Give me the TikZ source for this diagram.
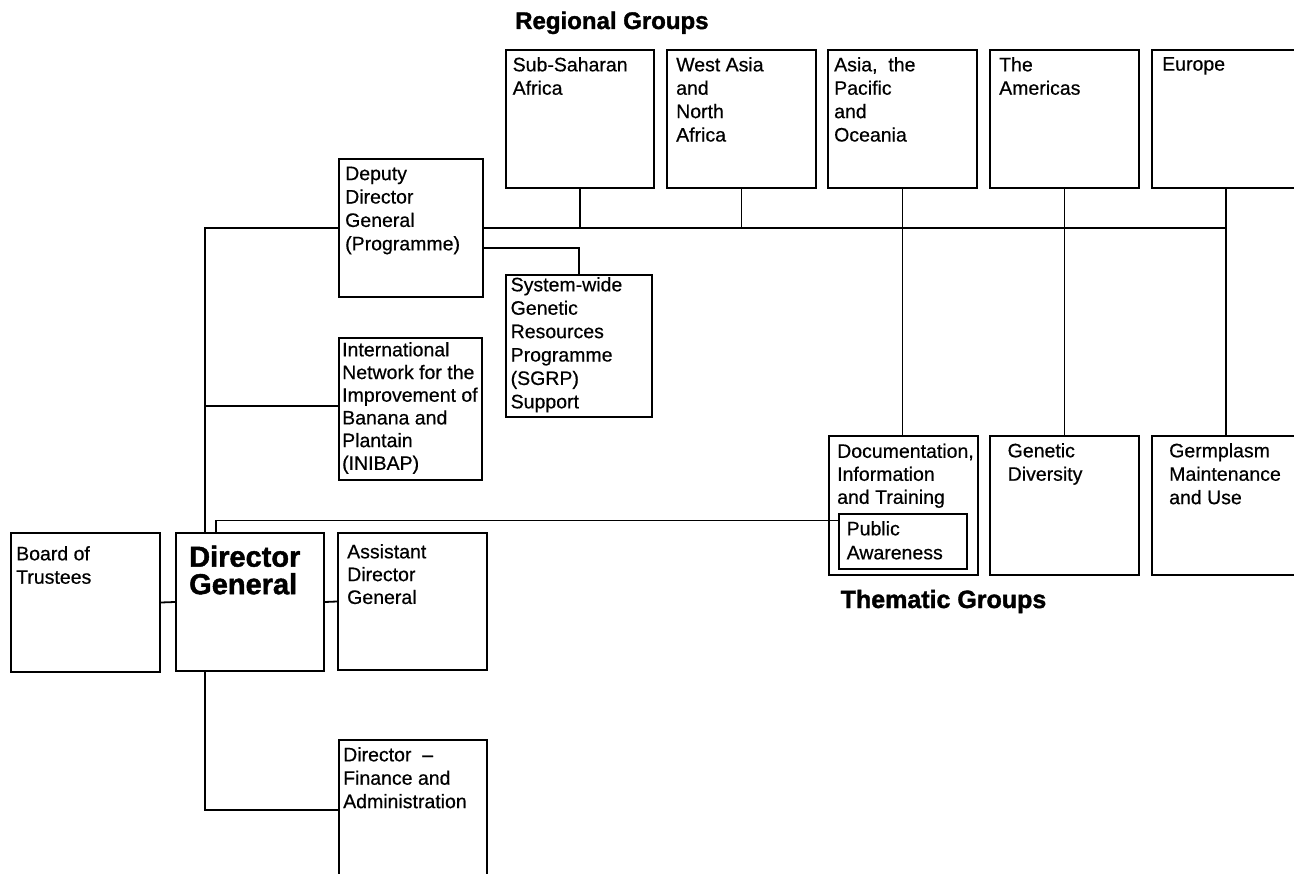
\documentclass[tikz,border=0pt]{standalone}
\usepackage{fontspec}
\setmainfont{Liberation Sans}[FakeBold=0.5, BoldFeatures={FakeBold=1.5}]
\begin{document}
\begin{tikzpicture}[x=1pt,y=-1pt,
  box/.style={draw, line width=2pt, inner sep=0pt, anchor=north west},
  txt/.style={anchor=north west, align=left, inner sep=0pt, font=\fontsize{19.5}{23.4}\selectfont},
  head/.style={anchor=base west, inner sep=0pt, font=\bfseries\fontsize{24}{24}\selectfont},
  link/.style={draw, line width=1.8pt}]
\clip (0,0) rectangle (1294,874);
\fill[white] (0,0) rectangle (1294,874);
% helper to make boxes from corners
\newcommand{\orgbox}[5]{\node[box, minimum width=#4-#2, minimum height=#5-#3] (#1) at (#2,#3) {};}
\orgbox{ss}{505}{49}{653}{187}
\orgbox{wa}{666}{49}{815}{187}
\orgbox{ap}{827}{49}{976}{187}
\orgbox{am}{989}{49}{1138}{187}
\orgbox{eu}{1151}{49}{1299}{187}
\orgbox{ddg}{338}{158}{482}{296}
\orgbox{sgrp}{505}{274}{651}{416}
\orgbox{inibap}{338}{337}{481}{479}
\orgbox{board}{10}{532}{159}{671}
\orgbox{dg}{175}{532}{323}{670}
\orgbox{adg}{337}{532}{486}{669}
\orgbox{dfa}{338}{739}{486}{879}
\orgbox{doc}{828}{435}{977}{574}
\orgbox{pa}{838}{513}{966}{568}
\orgbox{gd}{989}{435}{1138}{574}
\orgbox{gm}{1151}{435}{1299}{574}
% texts
\node[txt] at ([shift={(7.5,8)}]ss.north west) {Sub-Saharan\\Africa};
\node[txt] at ([shift={(10,8)}]wa.north west) {West Asia\\and\\North\\Africa};
\node[txt] at ([shift={(7,8)}]ap.north west) {Asia,~~the\\Pacific\\and\\Oceania};
\node[txt] at ([shift={(10,8)}]am.north west) {The\\Americas};
\node[txt] at ([shift={(11,8)}]eu.north west) {Europe};
\node[txt] at ([shift={(7,8.5)}]ddg.north west) {Deputy\\Director\\General\\(Programme)};
\node[txt] at ([shift={(5.5,3)}]sgrp.north west) {System-wide\\Genetic\\Resources\\Programme\\(SGRP)\\Support};
\node[txt, font=\fontsize{19.5}{22.7}\selectfont] at ([shift={(4,5)}]inibap.north west) {International\\Network for the\\Improvement of\\Banana and\\Plantain\\(INIBAP)};
\node[txt] at ([shift={(6,14)}]board.north west) {Board of\\Trustees};
\node[txt, font=\bfseries\fontsize{29}{27.5}\selectfont] at ([shift={(14,13.5)}]dg.north west) {Director\\General};
\node[txt, font=\fontsize{19.5}{22.8}\selectfont] at ([shift={(10,12)}]adg.north west) {Assistant\\Director\\General};
\node[txt] at ([shift={(5,8)}]dfa.north west) {Director~~–\\Finance and\\Administration};
\node[txt, font=\fontsize{19.5}{23}\selectfont] at ([shift={(9,8.5)}]doc.north west) {Documentation,\\Information\\and Training};
\node[txt, font=\fontsize{19.5}{24}\selectfont] at ([shift={(8.5,8)}]pa.north west) {Public\\Awareness};
\node[txt] at ([shift={(18.5,8)}]gd.north west) {Genetic\\Diversity};
\node[txt] at ([shift={(18,8)}]gm.north west) {Germplasm\\Maintenance\\and Use};
\node[head] (rg) at (515,29) {Regional Groups};
\node[head, font=\bfseries\fontsize{25}{25}\selectfont] (tg) at (840.5,608) {Thematic Groups};
% connectors
\coordinate (sp) at (205,0);
\draw[link] (ddg.east) -- (eu.south |- ddg.east);
\draw[link] (ss.south) -- (ss.south |- ddg.east);
\draw[link] (wa.south) -- (wa.south |- ddg.east);
\draw[link] (eu.south) -- (gm.north);
\draw[link] (ap.south) -- (ap.south |- doc.north);
\draw[link] (am.south) -- (am.south |- gd.north);
\draw[link] ([yshift=-20pt]ddg.east) -| (sgrp.north);
\draw[link] (ddg.west) -| (sp |- dg.north);
\draw[link] ([yshift=3pt]inibap.west) -- ([yshift=3pt]inibap.west -| sp);
\draw[link] (sp |- dg.south) |- (dfa.west);
\draw[link] (board.east) -- (dg.west);
\draw[link] (dg.east) -- (adg.west);
\draw[link] ([xshift=41pt]dg.north west) |- ([yshift=-7.5pt]pa.north west);
\end{tikzpicture}
\end{document}
